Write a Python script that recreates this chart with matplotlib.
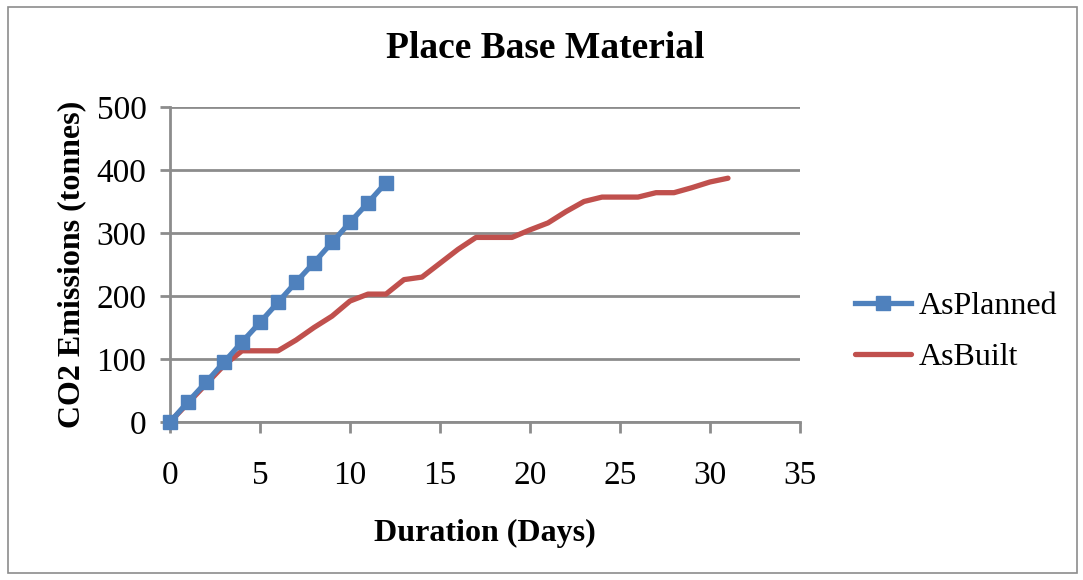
import matplotlib
matplotlib.use("Agg")
import matplotlib.pyplot as plt
from matplotlib.patches import Rectangle

days_planned = list(range(0, 13))
as_planned = [0, 32, 63, 95, 127, 158, 190, 222, 253, 285, 317, 348, 380]
days_built = list(range(0, 32))
as_built = [0, 30, 60, 90, 113, 113, 113, 130, 150, 168, 192, 203, 203, 226, 230,
            252, 274, 293, 293, 293, 305, 316, 334, 350, 357, 357, 357, 364, 364,
            372, 381, 387]
x_ticks = [0, 5, 10, 15, 20, 25, 30, 35]
y_ticks = [0, 100, 200, 300, 400, 500]
title = "Place Base Material"
x_label = "Duration (Days)"
y_label = "CO2 Emissions (tonnes)"

plt.rcParams['font.family'] = ['Liberation Serif', 'DejaVu Serif']

fig = plt.figure(figsize=(10.83, 5.8), dpi=100)
fig.patches.append(Rectangle((8/1083, 7/580), 1069/1083, 566/580, transform=fig.transFigure,
                             fill=False, edgecolor='#8c8c8c', linewidth=1.2))
ax = fig.add_axes([170/1083, 1-422/580, 630/1083, 315/580])

grid_c = '#8c8c8c'
ax.plot(days_planned, as_planned, color='#4F81BD', linewidth=3.8, marker='s',
        markersize=10.5, label='AsPlanned', zorder=4, clip_on=False)
ax.plot(days_built, as_built, color='#C0504D', linewidth=3.8, label='AsBuilt', zorder=3,
        solid_capstyle='round', clip_on=False)

ax.set_xlim(0, 35)
ax.set_ylim(0, 500)
ax.set_xticks(x_ticks)
ax.set_yticks(y_ticks)
ax.grid(axis='y', color=grid_c, linewidth=2)
ax.set_axisbelow(True)
for s in ['top', 'right']:
    ax.spines[s].set_visible(False)
for s in ['left', 'bottom']:
    ax.spines[s].set_color(grid_c)
    ax.spines[s].set_linewidth(2)
ax.tick_params(axis='x', direction='out', length=8, width=2, color=grid_c, pad=20, labelsize=24)
ax.tick_params(axis='y', direction='out', length=7, width=2, color=grid_c, pad=10, labelsize=24)

fig.text(0.503, 1 - 48/580, title, fontsize=27, fontweight='bold', ha='center', va='center')
ax.set_xlabel(x_label, fontsize=23, fontweight='bold', labelpad=20)
ax.set_ylabel(y_label, fontsize=23, fontweight='bold', labelpad=10)
ax.yaxis.set_label_coords(-(170 - 86) / 630, 0.5)

leg = ax.legend(loc='center left', bbox_to_anchor=(1.087, 0.285), frameon=False, fontsize=23,
                handlelength=1.75, handletextpad=0.25, labelspacing=0.68,
                borderpad=0, borderaxespad=0)

fig.savefig('out.png', dpi=100)
